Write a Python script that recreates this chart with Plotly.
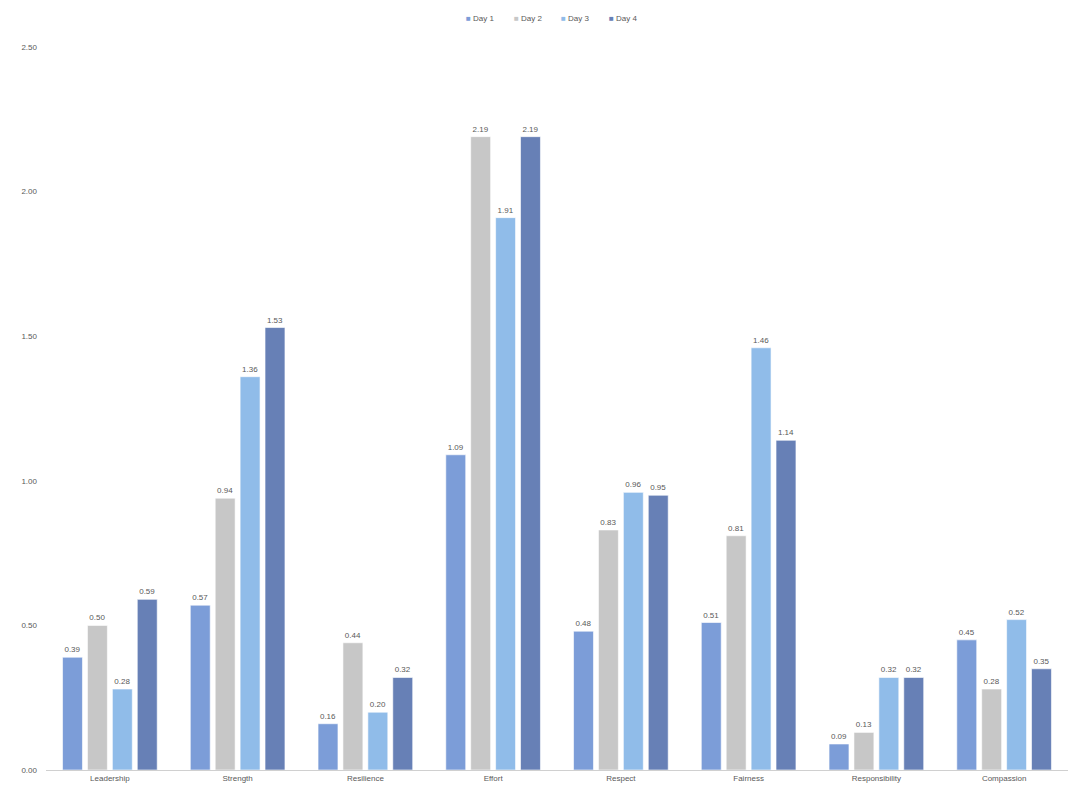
import plotly.graph_objects as go

# Category labels along the x axis
categories = ["Leadership", "Strength", "Resilience", "Effort",
              "Respect", "Fairness", "Responsibility", "Compassion"]

# One series per day
series_names = ["Day 1", "Day 2", "Day 3", "Day 4"]
day1 = [0.39, 0.57, 0.16, 1.09, 0.48, 0.51, 0.09, 0.45]
day2 = [0.50, 0.94, 0.44, 2.19, 0.83, 0.81, 0.13, 0.28]
day3 = [0.28, 1.36, 0.20, 1.91, 0.96, 1.46, 0.32, 0.52]
day4 = [0.59, 1.53, 0.32, 2.19, 0.95, 1.14, 0.32, 0.35]

# Y axis ticks
y_ticks = [0.0, 0.5, 1.0, 1.5, 2.0, 2.5]
y_tick_labels = ["0.00", "0.50", "1.00", "1.50", "2.00", "2.50"]

colors = ["#7c9dd8", "#c7c7c7", "#90bce9", "#6780b6"]

fig = go.Figure()
for name, vals, col in zip(series_names, [day1, day2, day3, day4], colors):
    fig.add_trace(go.Bar(
        name=name,
        x=categories,
        y=vals,
        marker=dict(color=col, line=dict(color="rgba(255,255,255,0.6)", width=1)),
        texttemplate="%{y:.2f}",
        textposition="outside",
        textfont=dict(size=8, color="#595959", family="Liberation Sans"),
        cliponaxis=False,
        showlegend=False,
    ))

# Compact legend row at the top: a coloured square followed by the series name
legend_step = 0.0465
legend_center = 0.495
legend_start = legend_center - 1.5 * legend_step
for i, (name, col) in enumerate(zip(series_names, colors)):
    fig.add_annotation(
        xref="paper", yref="paper",
        x=legend_start + i * legend_step, y=1.039,
        xanchor="center", yanchor="middle",
        text=f"<span style='color:{col}'>■</span> {name}",
        showarrow=False,
        font=dict(size=8, color="#595959", family="Liberation Sans"),
    )

fig.update_layout(
    width=1068,
    height=798,
    barmode="group",
    bargap=0.22,
    bargroupgap=0.2,
    plot_bgcolor="white",
    paper_bgcolor="white",
    margin=dict(l=46, r=0, t=47, b=28),
    font=dict(family="Liberation Sans", size=8, color="#595959"),
    showlegend=False,
    xaxis=dict(
        showgrid=False,
        showline=True,
        linecolor="#d0d0d0",
        linewidth=1,
        ticks="",
        tickfont=dict(size=8, color="#595959"),
    ),
    yaxis=dict(
        range=[0, 2.5],
        tickvals=y_ticks,
        ticktext=y_tick_labels,
        showgrid=False,
        zeroline=False,
        showline=False,
        ticks="",
        ticklabelstandoff=8,
        tickfont=dict(size=8, color="#595959"),
    ),
)

fig.write_html("out.html")
